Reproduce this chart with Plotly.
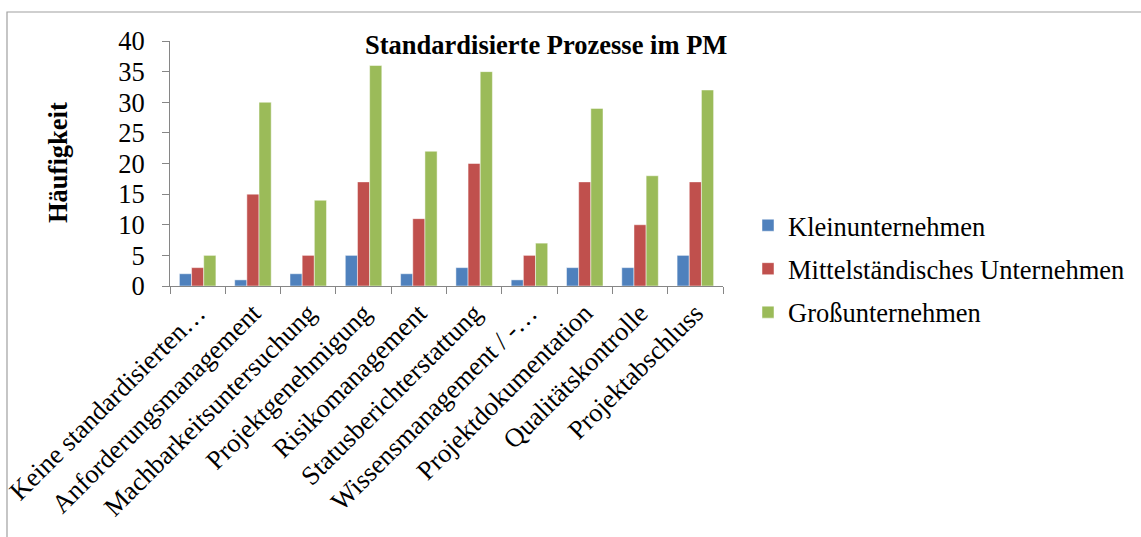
import plotly.graph_objects as go

categories = ["Keine standardisierten…", "Anforderungsmanagement", "Machbarkeitsuntersuchung",
              "Projektgenehmigung", "Risikomanagement", "Statusberichterstattung",
              "Wissensmanagement / -…", "Projektdokumentation", "Qualitätskontrolle",
              "Projektabschluss"]
klein = [2, 1, 2, 5, 2, 3, 1, 3, 3, 5]
mittel = [3, 15, 5, 17, 11, 20, 5, 17, 10, 17]
gross = [5, 30, 14, 36, 22, 35, 7, 29, 18, 32]
series_names = ["Kleinunternehmen", "Mittelständisches Unternehmen", "Großunternehmen"]
colors = ["#4F81BD", "#C0504D", "#9BBB59"]
yticks = [0, 5, 10, 15, 20, 25, 30, 35, 40]

W, H = 1141, 537
L, R, T, B = 170, 1141 - 723, 41, 537 - 286
pw, ph = W - L - R, H - T - B
FS = 26.5

fig = go.Figure()
for name, vals, c in zip(series_names, [klein, mittel, gross], colors):
    fig.add_trace(go.Bar(x=categories, y=vals, name=name, marker_color=c, legendgroup=name,
                         marker_line=dict(color="rgba(255,255,255,0.6)", width=0.8)))

font = "Liberation Serif, Times New Roman, serif"

def px_x(p):
    return (p - L) / pw

def px_y(p):
    return (H - B - p) / ph

fig.update_layout(
    width=W, height=H,
    margin=dict(l=L, r=R, t=T, b=B, autoexpand=False),
    paper_bgcolor="white", plot_bgcolor="white",
    barmode="group", bargap=0.34, bargroupgap=0,
    font=dict(family=font, color="black", size=FS),
    showlegend=True,
    legend=dict(x=px_x(748), y=px_y(269), xanchor="left", yanchor="middle",
                font=dict(family=font, size=FS), tracegroupgap=6,
                itemwidth=30, bgcolor="rgba(0,0,0,0)"),
    xaxis=dict(showline=True, linecolor="#868686", linewidth=1, ticks="outside",
               tickson="boundaries", ticklen=7, tickcolor="#868686", tickangle=-45,
               tickfont=dict(family=font, size=FS), showgrid=False, automargin=False),
    yaxis=dict(range=[0, 40], tickvals=yticks, showline=True, linecolor="#868686",
               linewidth=1, ticks="outside", ticklen=7, tickcolor="#868686",
               showgrid=False, zeroline=False, tickfont=dict(family=font, size=FS),
               ticklabelstandoff=12, automargin=False),
    annotations=[
        dict(text="<b>Standardisierte Prozesse im PM</b>", xref="paper", yref="paper",
             x=px_x(546), y=px_y(45), xanchor="center", yanchor="middle",
             showarrow=False, font=dict(family=font, size=FS)),
        dict(text="<b>Häufigkeit</b>", xref="paper", yref="paper", textangle=-90,
             x=px_x(58), y=px_y(163), xanchor="center", yanchor="middle",
             showarrow=False, font=dict(family=font, size=FS)),
    ],
    shapes=[dict(type="rect", xref="paper", yref="paper", x0=px_x(7), x1=px_x(1160),
                 y0=px_y(560), y1=px_y(12), line=dict(color="#A0A0A0", width=1.2),
                 fillcolor="rgba(0,0,0,0)", layer="below")],
)

fig.write_html("out.html", config={"displayModeBar": False},
               post_script="document.body.style.margin='0';document.body.style.overflow='hidden';")
